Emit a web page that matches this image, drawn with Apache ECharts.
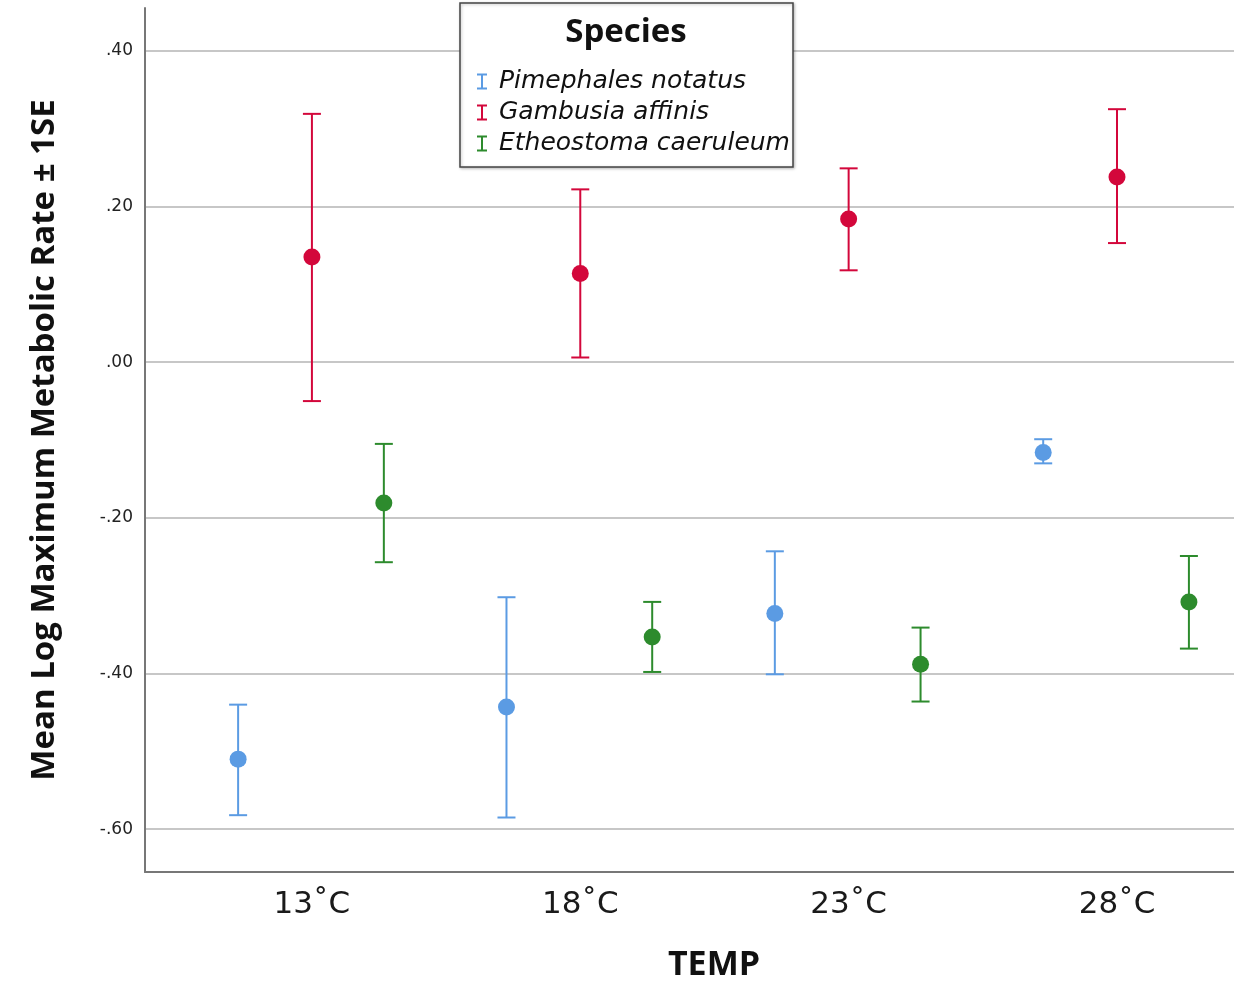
<!DOCTYPE html>
<html>
<head>
<meta charset="utf-8">
<script src="https://cdn.jsdelivr.net/npm/echarts@6/dist/echarts.min.js"></script>
<style>
  html, body { margin: 0; padding: 0; background: #fff; }
  #main { width: 1234px; height: 982px; }
</style>
</head>
<body>
<div id="main"></div>
<script>
// categories and tick labels
var temps = ['13˚C', '18˚C', '23˚C', '28˚C'];
var species = ['Pimephales notatus', 'Gambusia affinis', 'Etheostoma caeruleum'];
var yTicks = [-0.6, -0.4, -0.2, 0, 0.2, 0.4];

// mean and ±1SE bounds, one value per temperature
var pimMean = [-0.510, -0.443, -0.323, -0.116];
var pimLow  = [-0.582, -0.585, -0.401, -0.130];
var pimHigh = [-0.440, -0.302, -0.243, -0.099];

var gamMean = [0.135, 0.114, 0.184, 0.238];
var gamLow  = [-0.050, 0.006, 0.118, 0.153];
var gamHigh = [0.319, 0.222, 0.249, 0.325];

var ethMean = [-0.181, -0.353, -0.388, -0.308];
var ethLow  = [-0.257, -0.398, -0.436, -0.368];
var ethHigh = [-0.105, -0.308, -0.341, -0.249];

var colors = ['#5b9be3', '#d3073b', '#2d8b2d'];
var dodge = [-0.275, 0, 0.268];

var means = [pimMean, gamMean, ethMean];
var lows = [pimLow, gamLow, ethLow];
var highs = [pimHigh, gamHigh, ethHigh];

function fmtY(v) {
  var s = Number(v).toFixed(2);
  return s.replace('0.', '.');
}

// error bar: vertical line with caps
function errBar(color) {
  return function (params, api) {
    var x = api.value(0);
    var top = api.coord([x, api.value(2)]);
    var bot = api.coord([x, api.value(1)]);
    var w = 9;
    var st = { stroke: color, lineWidth: 2 };
    return {
      type: 'group',
      children: [
        { type: 'line', shape: { x1: top[0], y1: top[1], x2: bot[0], y2: bot[1] }, style: st },
        { type: 'line', shape: { x1: top[0] - w, y1: top[1], x2: top[0] + w, y2: top[1] }, style: st },
        { type: 'line', shape: { x1: bot[0] - w, y1: bot[1], x2: bot[0] + w, y2: bot[1] }, style: st }
      ]
    };
  };
}

var series = [];
species.forEach(function (name, s) {
  series.push({
    name: name,
    type: 'custom',
    renderItem: errBar(colors[s]),
    itemStyle: { color: colors[s] },
    data: temps.map(function (t, i) { return [i + dodge[s], lows[s][i], highs[s][i]]; }),
    z: 2
  });
  series.push({
    name: name,
    type: 'scatter',
    symbolSize: 17,
    itemStyle: { color: colors[s], opacity: 1 },
    data: temps.map(function (t, i) { return [i + dodge[s], means[s][i]]; }),
    z: 3
  });
});

var iPath = 'path://M0,0L10,0L10,2L6,2L6,14L10,14L10,16L0,16L0,14L4,14L4,2L0,2Z';

var chart = echarts.init(document.getElementById('main'));
chart.setOption({
  animation: false,
  textStyle: { fontFamily: 'DejaVu Sans' },
  grid: { left: 145, top: 8, right: 0, bottom: 110 },
  xAxis: {
    type: 'value',
    min: -0.622,
    max: 3.436,
    axisLine: { onZero: false, lineStyle: { color: '#777', width: 2 } },
    axisTick: { show: false },
    splitLine: { show: false },
    axisLabel: {
      customValues: [0, 1, 2, 3],
      formatter: function (v) { return temps[Math.round(v)]; },
      fontSize: 31,
      color: '#1a1a1a',
      margin: 17,
      fontFamily: 'DejaVu Sans'
    }
  },
  yAxis: {
    type: 'value',
    min: -0.655,
    max: 0.455,
    name: 'Mean Log Maximum Metabolic Rate ± 1SE',
    nameLocation: 'middle',
    nameGap: 84,
    nameTextStyle: { fontSize: 33, fontWeight: 'bold', color: '#111', fontFamily: 'Open Sans' },
    axisLine: { show: true, onZero: false, lineStyle: { color: '#777', width: 2 } },
    axisTick: { show: false, customValues: yTicks },
    splitLine: { show: true, lineStyle: { color: '#b4b4b4', width: 1.5 } },
    axisLabel: {
      customValues: yTicks,
      formatter: fmtY,
      fontSize: 17,
      color: '#222',
      margin: 12
    }
  },
  legend: {
    orient: 'vertical',
    left: 472,
    top: 64,
    itemGap: 6,
    itemWidth: 10,
    itemHeight: 17,
    selectedMode: false,
    z: 60,
    data: species.map(function (n) { return { name: n, icon: iPath }; }),
    textStyle: { fontSize: 25, fontStyle: 'italic', color: '#111', fontFamily: 'DejaVu Sans', padding: [0, 0, 0, 7] }
  },
  graphic: [
    {
      type: 'rect',
      shape: { x: 460, y: 3, width: 333, height: 164 },
      style: { fill: '#fff', stroke: '#444', lineWidth: 1.5, shadowBlur: 3, shadowColor: 'rgba(0,0,0,0.25)', shadowOffsetX: 1, shadowOffsetY: 1 },
      z: 50
    },
    {
      type: 'text',
      x: 626,
      y: 33,
      style: { text: 'Species', fontSize: 33, fontWeight: 'bold', fill: '#111', align: 'center', verticalAlign: 'middle', fontFamily: 'Open Sans' },
      z: 51
    },
    {
      type: 'text',
      x: 714,
      y: 965,
      style: { text: 'TEMP', fontSize: 34, fontWeight: 'bold', fill: '#111', align: 'center', verticalAlign: 'middle', fontFamily: 'Open Sans' },
      z: 51
    }
  ],
  series: series
});
</script>
</body>
</html>
